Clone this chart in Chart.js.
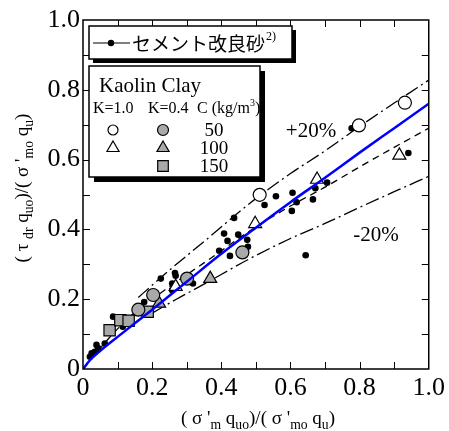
<!DOCTYPE html>
<html>
<head>
<meta charset="utf-8">
<script src="https://cdn.jsdelivr.net/npm/chart.js@4.4.1/dist/chart.umd.min.js"></script>
<style>
  html, body { margin: 0; padding: 0; background: #fff; }
  canvas { display: block; }
</style>
</head>
<body>
<canvas id="chart" width="449" height="431"></canvas>
<script>
// values
const cementSand = [
    [0.020, 0.035], [0.025, 0.045], [0.034, 0.049], [0.039, 0.069], [0.044, 0.059],
    [0.063, 0.073], [0.087, 0.150], [0.115, 0.121], [0.177, 0.192], [0.225, 0.259],
    [0.258, 0.245], [0.266, 0.275], [0.268, 0.267], [0.258, 0.226], [0.318, 0.245],
    [0.394, 0.339], [0.408, 0.388], [0.418, 0.367], [0.425, 0.324], [0.437, 0.433],
    [0.449, 0.385], [0.475, 0.370], [0.477, 0.350], [0.525, 0.470], [0.558, 0.495],
    [0.606, 0.505], [0.618, 0.478], [0.604, 0.453], [0.665, 0.486], [0.672, 0.518],
    [0.706, 0.534], [0.644, 0.326], [0.777, 0.690], [0.941, 0.619]
];
const k10c50 = [[0.511, 0.499], [0.798, 0.698], [0.931, 0.763]];
const k10c100 = [[0.268, 0.236], [0.498, 0.416], [0.677, 0.543], [0.915, 0.612]];
const k04c50 = [[0.160, 0.170], [0.203, 0.212], [0.301, 0.259], [0.461, 0.334]];
const k04c100 = [[0.220, 0.188], [0.368, 0.259]];
const k04c150 = [[0.077, 0.111], [0.108, 0.140], [0.132, 0.138], [0.187, 0.164]];

const blueCurve = [
    [0, 0], [0.02, 0.025], [0.05, 0.052], [0.1, 0.092], [0.2, 0.170], [0.3, 0.250],
    [0.4, 0.330], [0.5, 0.405], [0.6, 0.478], [0.7, 0.548], [0.8, 0.620], [0.9, 0.690], [1.0, 0.760]
];
const baseLine = [
    [0, 0], [0.05, 0.060], [0.1, 0.115], [0.16, 0.171], [0.2, 0.200], [0.27, 0.250], [0.35, 0.304],
    [0.48, 0.394], [0.6, 0.467], [0.7, 0.521], [0.8, 0.579], [0.9, 0.635], [1.0, 0.690]
];
const plus20 = [
    [0.16, 0.205], [0.2, 0.240], [0.27, 0.300], [0.35, 0.365], [0.48, 0.473],
    [0.6, 0.560], [0.7, 0.625], [0.8, 0.695], [0.9, 0.762], [1.0, 0.828]
];
const minus20 = [
    [0.2, 0.160], [0.27, 0.200], [0.35, 0.243], [0.48, 0.315], [0.6, 0.374],
    [0.7, 0.417], [0.8, 0.463], [0.9, 0.508], [1.0, 0.552]
];
const tickValues = ['0', '0.2', '0.4', '0.6', '0.8', '1.0'];

const SERIF = "'Liberation Serif', 'Times New Roman', serif";
const CJK = "'Noto Sans CJK JP', 'Noto Sans', sans-serif";
const GRAY = '#a9a9a9';

const pts = arr => arr.map(p => ({ x: p[0], y: p[1] }));

function marker(style, radius, fill) {
    return {
        showLine: false,
        pointStyle: style,
        pointRadius: radius,
        pointHoverRadius: radius,
        pointBackgroundColor: fill,
        pointBorderColor: '#000',
        pointBorderWidth: 1.2
    };
}

function curve(data, color, width, dash) {
    return {
        data: pts(data),
        showLine: true,
        borderColor: color,
        borderWidth: width,
        borderDash: dash,
        pointRadius: 0,
        cubicInterpolationMode: 'monotone'
    };
}

// draws text with subscript parts, centred on x
function richText(ctx, parts, x, y, size) {
    let w = 0;
    parts.forEach(p => {
        ctx.font = (p[1] ? size * 0.72 : size) + 'px ' + SERIF;
        w += ctx.measureText(p[0]).width;
    });
    let cx = x - w / 2;
    parts.forEach(p => {
        ctx.font = (p[1] ? size * 0.72 : size) + 'px ' + SERIF;
        ctx.fillText(p[0], cx, y + (p[1] ? size * 0.28 : 0));
        cx += ctx.measureText(p[0]).width;
    });
}

function drawShape(ctx, style, x, y, r, fill) {
    ctx.beginPath();
    if (style === 'circle') {
        ctx.arc(x, y, r, 0, Math.PI * 2);
    } else if (style === 'triangle') {
        ctx.moveTo(x, y - r);
        ctx.lineTo(x + r * 0.866, y + r * 0.5);
        ctx.lineTo(x - r * 0.866, y + r * 0.5);
        ctx.closePath();
    } else {
        ctx.rect(x - r * 0.707, y - r * 0.707, r * 1.414, r * 1.414);
    }
    ctx.fillStyle = fill;
    ctx.fill();
    ctx.lineWidth = 1.2;
    ctx.strokeStyle = '#000';
    ctx.stroke();
}

function shadowBox(ctx, x1, y1, x2, y2, off) {
    ctx.fillStyle = '#000';
    ctx.fillRect(x1 + off, y1 + off, x2 - x1, y2 - y1);
    ctx.fillStyle = '#fff';
    ctx.fillRect(x1, y1, x2 - x1, y2 - y1);
    ctx.lineWidth = 1.5;
    ctx.strokeStyle = '#000';
    ctx.strokeRect(x1, y1, x2 - x1, y2 - y1);
}

const decorations = {
    id: 'decorations',
    afterDraw(chart) {
        const ctx = chart.ctx;
        const { left, right, top, bottom } = chart.chartArea;
        const xs = chart.scales.x, ys = chart.scales.y;
        ctx.save();

        // frame and inward ticks
        ctx.strokeStyle = '#000';
        ctx.lineWidth = 1.5;
        ctx.strokeRect(left, top, right - left, bottom - top);
        ctx.lineWidth = 1;
        for (let i = 1; i < 10; i++) {
            const px = Math.round(xs.getPixelForValue(i / 10)) + 0.5;
            const py = Math.round(ys.getPixelForValue(i / 10)) + 0.5;
            ctx.beginPath();
            ctx.moveTo(px, bottom); ctx.lineTo(px, bottom - 7);
            ctx.moveTo(px, top); ctx.lineTo(px, top + 7);
            ctx.moveTo(left, py); ctx.lineTo(left + 7, py);
            ctx.moveTo(right, py); ctx.lineTo(right - 7, py);
            ctx.stroke();
        }

        // axis titles
        ctx.fillStyle = '#000';
        ctx.textBaseline = 'alphabetic';
        ctx.textAlign = 'left';
        richText(ctx, [['( σ \'', 0], ['m', 1], [' q', 0], ['uo', 1], [')/( σ \'', 0], ['mo', 1], [' q', 0], ['u', 1], [')', 0]],
            258, 424, 19);
        ctx.save();
        ctx.translate(28, 188);
        ctx.rotate(-Math.PI / 2);
        richText(ctx, [['( τ ', 0], ['dr', 1], [' q', 0], ['uo', 1], [')/( σ \'', 0], ['mo', 1], [' q', 0], ['u', 1], [')', 0]],
            0, 0, 19);
        ctx.restore();

        // band labels
        ctx.font = '21px ' + SERIF;
        ctx.textAlign = 'center';
        ctx.textBaseline = 'middle';
        ctx.fillText('+20%', 311, 131);
        ctx.fillText('-20%', 376, 235);

        // legend 1: cement improved sand
        shadowBox(ctx, 89, 26, 292, 59, 4);
        ctx.strokeStyle = '#000';
        ctx.lineWidth = 1.2;
        ctx.beginPath();
        ctx.moveTo(93, 43); ctx.lineTo(130, 43);
        ctx.stroke();
        ctx.beginPath();
        ctx.arc(111, 43, 3.2, 0, Math.PI * 2);
        ctx.fillStyle = '#000';
        ctx.fill();
        ctx.textAlign = 'left';
        ctx.textBaseline = 'alphabetic';
        ctx.font = '19px ' + CJK;
        ctx.fillText('セメント改良砂', 132, 51);
        ctx.font = '12px ' + SERIF;
        ctx.fillText('2)', 266, 40);

        // legend 2: kaolin clay
        shadowBox(ctx, 89, 66, 260, 177, 5);
        ctx.fillStyle = '#000';
        ctx.font = '21px ' + SERIF;
        ctx.fillText('Kaolin Clay', 99, 92);
        ctx.font = '16px ' + SERIF;
        ctx.fillText('K=1.0', 93, 113);
        ctx.fillText('K=0.4', 148, 113);
        ctx.fillText('C (kg/m', 197, 113);
        const cw = ctx.measureText('C (kg/m').width;
        ctx.font = '10px ' + SERIF;
        ctx.fillText('3', 197 + cw, 106);
        ctx.font = '16px ' + SERIF;
        ctx.fillText(')', 197 + cw + 5, 113);

        drawShape(ctx, 'circle', 113, 130, 5, '#fff');
        drawShape(ctx, 'circle', 163, 130, 5.5, GRAY);
        drawShape(ctx, 'triangle', 113, 148, 7, '#fff');
        drawShape(ctx, 'triangle', 163, 148, 7, GRAY);
        drawShape(ctx, 'rect', 163, 166, 7.5, GRAY);
        ctx.fillStyle = '#000';
        ctx.font = '19px ' + SERIF;
        ctx.textAlign = 'center';
        ctx.textBaseline = 'middle';
        ctx.fillText('50', 214, 131);
        ctx.fillText('100', 214, 149);
        ctx.fillText('150', 214, 167);

        ctx.restore();
    }
};

new Chart(document.getElementById('chart'), {
    type: 'scatter',
    data: {
        datasets: [
            curve(blueCurve, '#0000ff', 2.5, []),
            { data: pts(k10c50), ...marker('circle', 6.5, '#fff') },
            { data: pts(k10c100), ...marker('triangle', 7.5, '#fff') },
            { data: pts(k04c50), ...marker('circle', 6.5, GRAY) },
            { data: pts(k04c100), ...marker('triangle', 7.5, GRAY) },
            { data: pts(k04c150), ...marker('rect', 8, GRAY) },
            { data: pts(cementSand), showLine: false, pointRadius: 3.3, pointBackgroundColor: '#000', pointBorderWidth: 0 },
            curve(plus20, '#000', 1.3, [14, 4, 2, 4]),
            curve(baseLine, '#000', 1.3, [7, 5]),
            curve(minus20, '#000', 1.3, [14, 4, 2, 4])
        ]
    },
    options: {
        responsive: false,
        animation: false,
        devicePixelRatio: 1,
        layout: { padding: { top: 20, right: 16, left: 0, bottom: 0 } },
        plugins: {
            legend: { display: false },
            tooltip: { enabled: false }
        },
        scales: {
            x: {
                min: 0, max: 1,
                grid: { display: false, drawTicks: false },
                border: { display: false },
                ticks: {
                    stepSize: 0.1,
                    autoSkip: false,
                    maxRotation: 0,
                    padding: 4,
                    color: '#000',
                    font: { family: SERIF, size: 26 },
                    callback: v => {
                        const t = Math.round(v * 10);
                        return t % 2 ? '' : tickValues[t / 2];
                    }
                },
                afterFit: s => { s.height = 62; }
            },
            y: {
                min: 0, max: 1,
                grid: { display: false, drawTicks: false },
                border: { display: false },
                ticks: {
                    stepSize: 0.1,
                    autoSkip: false,
                    padding: 3,
                    color: '#000',
                    font: { family: SERIF, size: 26 },
                    callback: v => {
                        const t = Math.round(v * 10);
                        return t % 2 ? '' : tickValues[t / 2];
                    }
                },
                afterFit: s => { s.width = 83; }
            }
        }
    },
    plugins: [decorations]
});
</script>
</body>
</html>
